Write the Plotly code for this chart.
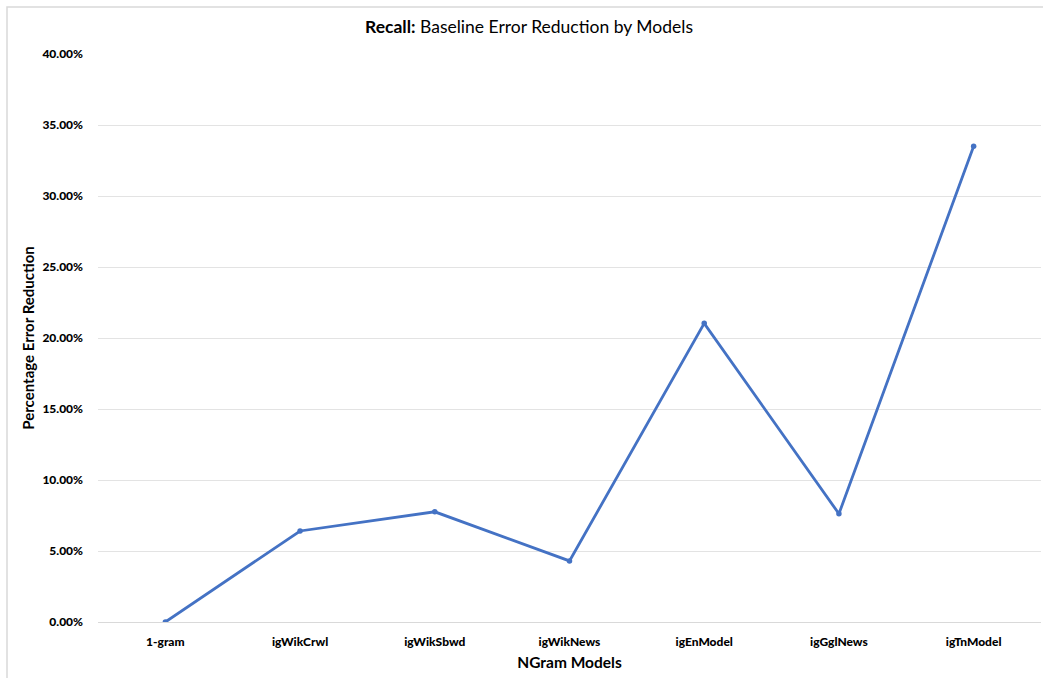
import plotly.graph_objects as go

# NGram models and their recall error reduction relative to the baseline
models = ["1-gram", "igWikCrwl", "igWikSbwd", "igWikNews", "igEnModel", "igGglNews", "igTnModel"]
error_reduction = [0.0, 0.0641, 0.0776, 0.0430, 0.2103, 0.0762, 0.3350]
y_ticks = [0.0, 0.05, 0.10, 0.15, 0.20, 0.25, 0.30, 0.35, 0.40]

W, H = 1043, 678
ML, MR, MT, MB = 98, 2, 54, 56
font_family = "Lato, Open Sans, sans-serif"

fig = go.Figure()
fig.add_trace(go.Scatter(
    x=models,
    y=error_reduction,
    mode="lines+markers",
    line=dict(color="#4472C4", width=2.8),
    marker=dict(color="#4472C4", size=5.5),
    showlegend=False,
    hoverinfo="x+y",
))

plot_w = W - ML - MR
plot_h = H - MT - MB
# outer chart frame (only top and left edges fall inside the canvas)
frame_x0 = (7 - ML) / plot_w
frame_y1 = (H - MB - 7) / plot_h

fig.update_layout(
    width=W,
    height=H,
    margin=dict(l=ML, r=MR, t=MT, b=MB),
    paper_bgcolor="white",
    plot_bgcolor="white",
    font=dict(family=font_family, color="#000000"),
    title=dict(
        text="<b>Recall:</b> Baseline Error Reduction by Models",
        x=529 / W, xref="container", xanchor="center",
        y=1 - 27 / H, yanchor="middle",
        font=dict(size=17.5, family=font_family, color="#000000"),
    ),
    xaxis=dict(
        type="category",
        tickfont=dict(size=12, family=font_family, color="#000000", weight=900),
        showgrid=False,
        showline=True, linecolor="#D9D9D9", linewidth=1,
        ticks="",
        ticklabelstandoff=9,
        title=dict(text="<b>NGram Models</b>", font=dict(size=15.5, family=font_family, color="#000000"), standoff=8),
        range=[-0.5, 6.5],
    ),
    yaxis=dict(
        range=[0, 0.40],
        tickvals=y_ticks,
        tickformat=".2%",
        tickfont=dict(size=12, family=font_family, color="#000000", weight=900),
        showgrid=True, gridcolor="#E3E3E3", gridwidth=1,
        zeroline=False,
        showline=False,
        ticks="",
        ticklabelstandoff=14,
        title=dict(text="<b>Percentage Error Reduction</b>", font=dict(size=15, family=font_family, color="#000000"), standoff=4),
    ),
    shapes=[
        dict(type="rect", xref="paper", yref="paper",
             x0=frame_x0, x1=1.2, y0=-0.3, y1=frame_y1,
             line=dict(color="#D9D9D9", width=1.5), fillcolor="rgba(0,0,0,0)", layer="below"),
    ],
)

fig.write_html("out.html")
